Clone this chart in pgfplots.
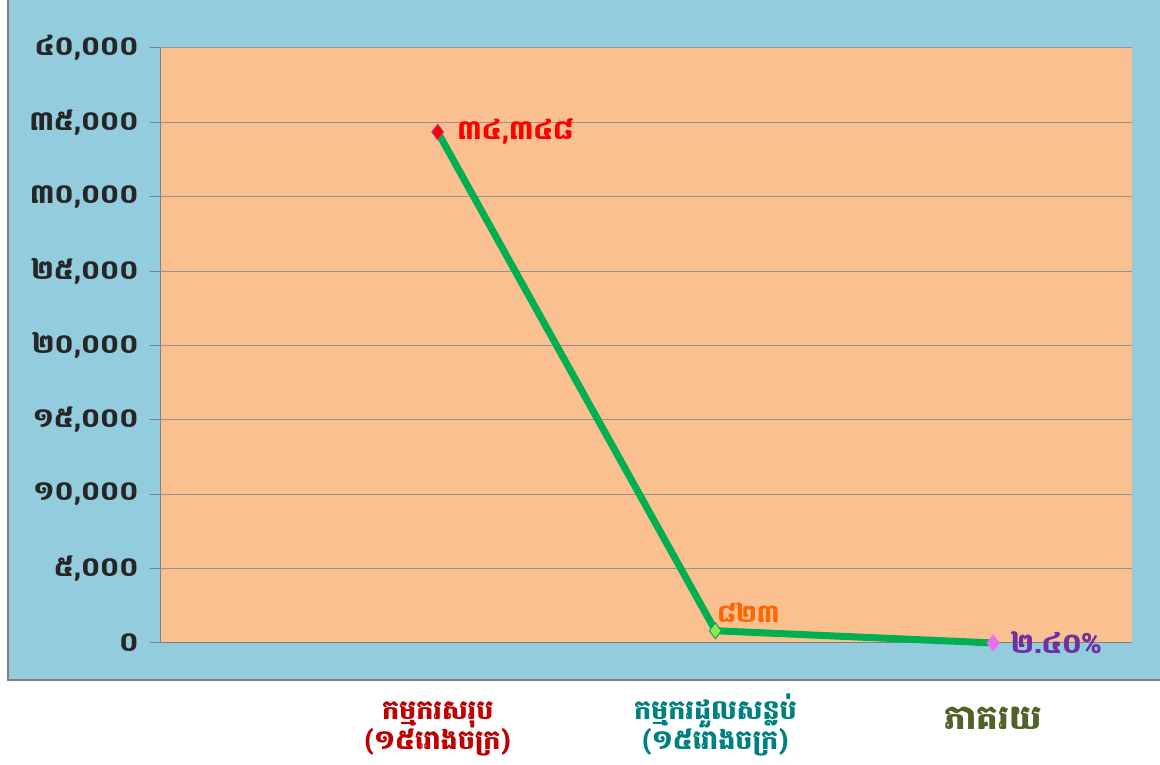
\documentclass[border=0pt]{standalone}
\usepackage{pgfplots}
\pgfplotsset{compat=1.18}
\usepackage{fontspec}
\newfontfamily\khmer[Script=Khmer]{Battambang}
\definecolor{bgblue}{RGB}{147,205,221}
\definecolor{plotor}{RGB}{250,192,144}
\definecolor{lgreen}{RGB}{0,176,80}
\definecolor{cat1}{RGB}{192,0,0}
\definecolor{cat2}{RGB}{0,128,128}
\definecolor{cat3}{RGB}{79,98,40}
\definecolor{lblorange}{RGB}{255,102,0}
\definecolor{lblpurple}{RGB}{112,48,160}
\definecolor{mkpink}{RGB}{238,110,238}
\definecolor{mkgreen}{RGB}{146,230,80}
\begin{document}
\begin{tikzpicture}[x=1pt,y=1pt]
\useasboundingbox (0,0) rectangle (1160,765);
\fill[bgblue] (8,85) rectangle (1162,767);
\draw[gray, line width=2pt] (8,767) -- (8,85) -- (1162,85);
\begin{axis}[
  at={(160pt,122pt)}, anchor=south west,
  scale only axis, width=972pt, height=595pt,
  xmin=0, xmax=3.5, ymin=0, ymax=40000,
  scaled y ticks=false,
  axis background/.style={fill=plotor},
  axis x line=bottom, axis y line=left,
  axis line style={-, draw=gray, line width=1pt},
  ytick={0,5000,10000,15000,20000,25000,30000,35000,40000},
  yticklabels={០,{៥,០០០},{១០,០០០},{១៥,០០០},{២០,០០០},{២៥,០០០},{៣០,០០០},{៣៥,០០០},{៤០,០០០}},
  yticklabel style={font=\khmer\bfseries\fontsize{27}{30}\selectfont, text=black!85, xshift=-8pt},
  ymajorgrids, grid style={gray!85, line width=1pt},
  y tick style={gray, line width=1pt}, tick align=outside, major tick length=10pt,
  xtick={1,2,3}, x tick style={draw=none},
  xticklabels={
    {\rule{0pt}{26pt}\textcolor{cat1}{កម្មករសរុប}\\\textcolor{cat1}{(១៥រោងចក្រ)}},
    {\rule{0pt}{26pt}\textcolor{cat2}{កម្មករដួលសន្លប់}\\\textcolor{cat2}{(១៥រោងចក្រ)}},
    {\rule{0pt}{26pt}\raisebox{-10pt}{\textcolor{cat3}{\fontsize{34}{36}\selectfont ភាគរយ}}}},
  xticklabel style={yshift=-40pt, anchor=north, align=center, inner sep=0pt,
    font=\khmer\bfseries\fontsize{27}{29}\selectfont},
  clip=false]
\addplot[only marks, mark=diamond*, mark size=8pt,
  mark options={fill=mkgreen, draw=lgreen, line width=1pt},
  nodes near coords={\khmer\bfseries ៨២៣},
  every node near coord/.append style={anchor=south west, xshift=-2pt, yshift=4pt,
    text=lblorange, font=\fontsize{25}{28}\selectfont}]
  coordinates {(2,823)};
\addplot[lgreen, line width=7pt, no marks, line join=round]
  coordinates {(1,34348) (2,823) (3,2.40)};
\addplot[only marks, mark=diamond*, mark size=8pt,
  mark options={fill=red, draw=violet!70, line width=0.8pt},
  nodes near coords={\khmer\bfseries ៣៤,៣៤៨},
  every node near coord/.append style={anchor=west, xshift=16pt,
    text=red, font=\fontsize{27}{30}\selectfont}]
  coordinates {(1,34348)};
\addplot[only marks, mark=diamond*, mark size=8pt,
  mark options={fill=mkpink, draw=mkpink, line width=0.8pt},
  nodes near coords={\khmer\bfseries ២.៤០\%},
  every node near coord/.append style={anchor=west, xshift=14pt,
    text=lblpurple, font=\fontsize{28}{30}\selectfont}]
  coordinates {(3,2.40)};
\end{axis}
\end{tikzpicture}
\end{document}
